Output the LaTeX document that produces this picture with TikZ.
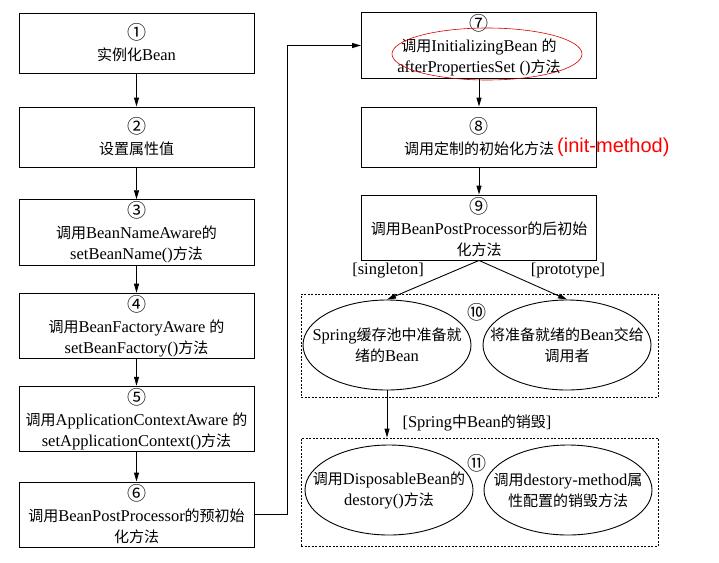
\documentclass[tikz,border=0pt]{standalone}
\usepackage{fontspec}
\setmainfont{Liberation Serif}[Scale=1.1]
\newfontfamily\cjkfont{Noto Sans CJK SC}
\newfontfamily\redfont{Liberation Sans}
\usetikzlibrary{arrows.meta,shapes.geometric}
\def\cn#1{{\cjkfont #1}}
\def\circnum#1{{\cjkfont\fontsize{19}{21}\selectfont #1}}
\tikzset{
	stepbox/.style={draw, line width=0.9pt, minimum width=235pt, minimum height=63pt, align=center, inner sep=2pt},
	oval/.style={draw, ellipse, line width=0.9pt, minimum width=168pt, minimum height=90pt, inner sep=0pt},
	groupbox/.style={draw, line width=0.9pt, dash pattern=on 2pt off 1.5pt, minimum width=357pt},
	flow/.style={line width=0.9pt, -{Triangle[length=9pt,width=5pt]}},
	tag/.style={inner sep=1pt}
}

\begin{document}
\begin{tikzpicture}[x=1pt, y=-1pt, font=\fontsize{15}{21}\selectfont]
			%%%%% START %%%%%
			\useasboundingbox (0,0) rectangle (719,562);
			
			\node[stepbox, minimum height=60pt] (b1) at (136.5,43) {\circnum{①}\\\cn{实例化}Bean};
			\node[stepbox, minimum height=60pt] (b2) at (136.5,137) {\circnum{②}\\\cn{设置属性值}};
			\node[stepbox, minimum height=65pt] (b3) at (136.5,232.5) {\circnum{③}\\\cn{调用}BeanNameAware\cn{的}\\setBeanName()\cn{方法}};
			\node[stepbox, minimum height=64pt] (b4) at (136.5,326) {\circnum{④}\\\cn{调用}BeanFactoryAware \cn{的}\\setBeanFactory()\cn{方法}};
			\node[stepbox, minimum height=64pt] (b5) at (136.5,419) {\circnum{⑤}\\\cn{调用}ApplicationContextAware \cn{的}\\setApplicationContext()\cn{方法}};
			\node[stepbox, minimum height=65pt] (b6) at (136.5,514.5) {\circnum{⑥}\\\cn{调用}BeanPostProcessor\cn{的预初始}\\\cn{化方法}};
			
			\draw[flow] (b1) -- (b2);
			\draw[flow] (b2) -- (b3);
			\draw[flow] (b3) -- (b4);
			\draw[flow] (b4) -- (b5);
			\draw[flow] (b5) -- (b6);
			
			\node[stepbox, minimum height=65pt] (b7) at (479,45.5) {\circnum{⑦}\\\cn{调用}InitializingBean \cn{的}\\afterPropertiesSet ()\cn{方法}};
			\draw[line width=0.6pt, color=red!85!black] (487,54) ellipse [x radius=95pt, y radius=26pt];
			\node[stepbox, minimum height=60pt] (b8) at (479,137) {\circnum{⑧}\\\cn{调用定制的初始化方法}};
			\node[anchor=west, inner sep=0pt, text=red, font=\redfont\fontsize{20}{24}\selectfont] (initm) at (557,147) {(init-method)};
			\node[stepbox, minimum height=65pt] (b9) at (479,227.5) {\circnum{⑨}\\\cn{调用}BeanPostProcessor\cn{的后初始}\\\cn{化方法}};
			
			\draw[flow] (b6.east) -- ++(33,0) |- (b7.west);
			\draw[flow] (b7) -- (b8);
			\draw[flow] (b8) -- (b9);
			
			\node[groupbox, minimum height=103pt] (g10) at (479.5,345.5) {};
			\node[tag] (n10) at (477,312) {\circnum{⑩}};
			\node[oval, label={[align=center]center:{Spring\cn{缓存池中准备就}\\\cn{绪的}Bean}}] (e10a) at (387,345) {};
			\node[oval, label={[align=center]center:{\cn{将准备就绪的}Bean\cn{交给}\\\cn{调用者}}}] (e10b) at (567,345) {};
			
			\draw[flow] (b9.south) -- (e10a.north);
			\draw[flow] (b9.south) -- (e10b.north);
			\node[tag] (single) at (388,271) {[singleton]};
			\node[tag] (proto) at (568,271) {[prototype]};
			
			\node[groupbox, minimum height=108pt] (g11) at (479.5,492) {};
			\node[tag] (n11) at (477,463) {\circnum{⑪}};
			\node[oval, label={[align=center]center:{\cn{调用}DisposableBean\cn{的}\\destory()\cn{方法}}}] (e11a) at (389,490) {};
			\node[oval, label={[align=center]center:{\cn{调用}destory-method\cn{属}\\\cn{性配置的销毁方法}}}] (e11b) at (568,490) {};
			
			\draw[flow] (e10a.south) -- (e10a.south |- g11.north);
			\node[tag] (destroy) at (477,423) {[Spring\cn{中}Bean\cn{的销毁}]};
			
			%%%%% END %%%%%
\end{tikzpicture}
\end{document}
